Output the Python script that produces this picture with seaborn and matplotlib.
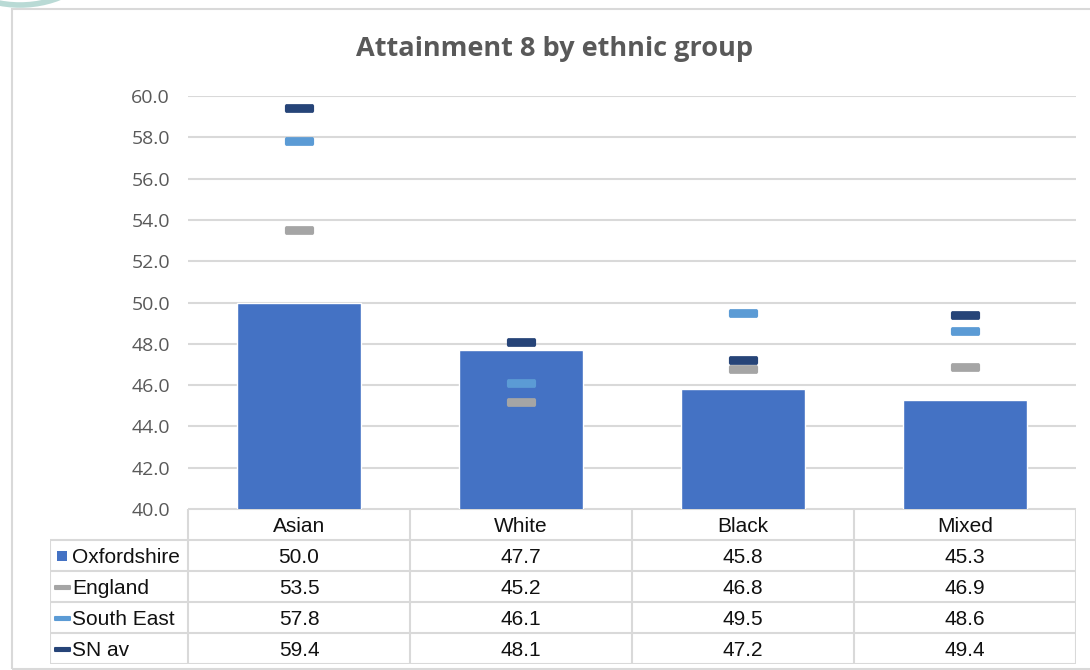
import numpy as np
import pandas as pd
import matplotlib.pyplot as plt
import seaborn as sns
from matplotlib.path import Path
from matplotlib.patches import Rectangle, Arc

# data
groups = ["Asian", "White", "Black", "Mixed"]
oxfordshire = [50.0, 47.7, 45.8, 45.3]
england = [53.5, 45.2, 46.8, 46.9]
south_east = [57.8, 46.1, 49.5, 48.6]
sn_av = [59.4, 48.1, 47.2, 49.4]
series_names = ["Oxfordshire", "England", "South East", "SN av"]
series_colors = ["#4472C4", "#A5A5A5", "#5B9BD5", "#264478"]
yticks = np.arange(40, 61, 2)

sns.set_style("white")
plt.rcParams['font.family'] = ['Liberation Sans', 'DejaVu Sans']

# dash marker with soft corners
dash = Path([(-1, -0.2), (-0.93, -0.3), (0.93, -0.3), (1, -0.2),
             (1, 0.2), (0.93, 0.3), (-0.93, 0.3), (-1, 0.2), (-1, -0.2)],
            closed=True)

fig = plt.figure(figsize=(10.9, 6.7), dpi=100)
W, H = 1090, 670

# slide frame and decorative arc in the corner
fig.patches.append(Rectangle((12 / W, 0.002), 1.2, 1 - 8.5 / H - 0.002, transform=fig.transFigure,
                             fill=False, edgecolor="#D9D9D9", linewidth=1.5))
fig.patches.append(Arc((20 / W, 1 + 60 / H), 170 / W, 130 / H, transform=fig.transFigure,
                       theta1=200, theta2=340, color="#B9DAD5", linewidth=4))

ax = fig.add_axes([188 / W, 1 - 509 / H, 888 / W, 413 / H])
df = pd.DataFrame({"group": groups, "value": oxfordshire})
sns.barplot(data=df, x="group", y="value", color=series_colors[0], width=0.555,
            saturation=1, ax=ax, zorder=2)

for vals, col in zip([england, south_east, sn_av], series_colors[1:]):
    sns.stripplot(x=groups, y=vals, color=col, marker=dash, size=21, jitter=False,
                  linewidth=0, ax=ax, zorder=3)

ax.set_ylim(40, 60)
ax.set_xlim(-0.5, 3.5)
ax.set_yticks(yticks)
ax.set_yticklabels([f"{v:.1f}" for v in yticks], fontsize=14, color="#595959",
                   family=['Open Sans', 'DejaVu Sans'])
ax.tick_params(axis="y", length=0, pad=13)
ax.set_xticks([])
ax.set_xlabel("")
ax.set_ylabel("")
ax.grid(axis="y", color="#D9D9D9", linewidth=1.5, zorder=0)
for s in ax.spines.values():
    s.set_visible(False)

fig.text(555 / W, 1 - 49 / H, "Attainment 8 by ethnic group", ha="center", va="center",
         fontsize=19.5, fontweight="bold", color="#595959", family=['Open Sans', 'DejaVu Sans'])

# data table below the plot, sharing the category columns
label_w = 138 / 222
tax = fig.add_axes([50 / W, 1 - 664 / H, 1026 / W, 155 / H])
tax.set_xlim(-0.5 - label_w, 3.5)
tax.set_ylim(5, 0)
tax.axis("off")
line_kw = dict(color="#D9D9D9", linewidth=1.5)
tax.hlines(0, -0.5, 3.5, **line_kw)
tax.hlines(np.arange(1, 6), -0.5 - label_w, 3.5, **line_kw)
tax.vlines(np.arange(len(groups) + 1) - 0.5, 0, 5, **line_kw)
tax.vlines(-0.5 - label_w, 1, 5, **line_kw)

for i, g in enumerate(groups):
    tax.text(i, 0.55, g, ha="center", va="center", fontsize=15, color="#111111")

all_series = [oxfordshire, england, south_east, sn_av]
key_x = -0.5 - label_w + 0.054
for r, (name, vals, col) in enumerate(zip(series_names, all_series, series_colors)):
    y = r + 1.55
    if r == 0:
        tax.scatter([key_x], [y - 0.05], marker="s", s=60, color=col, linewidths=0)
    else:
        tax.scatter([key_x], [y - 0.05], marker=dash, s=150, color=col, linewidths=0)
    tax.text(-0.5 - label_w + 0.1, y, name, ha="left", va="center", fontsize=15, color="#111111")
    for i, v in enumerate(vals):
        tax.text(i, y, f"{v:.1f}", ha="center", va="center", fontsize=15, color="#111111")

fig.savefig("out.png", dpi=100)
